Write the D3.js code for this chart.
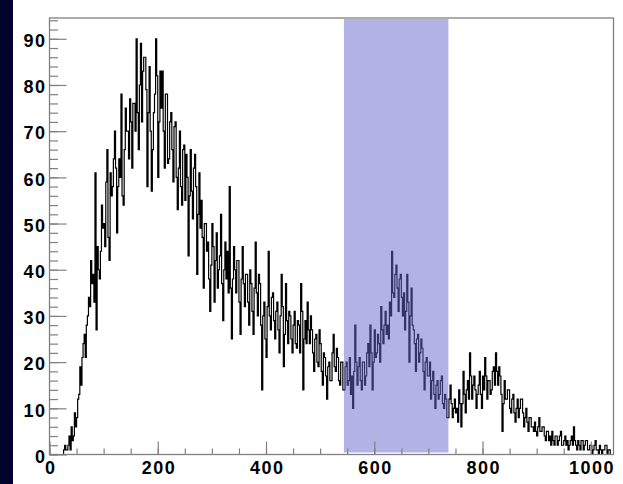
<!DOCTYPE html>
<html>
<head>
<meta charset="utf-8">
<script src="https://cdn.jsdelivr.net/npm/d3@7"></script>
<style>
  html, body { margin: 0; padding: 0; background: #ffffff; }
  svg { display: block; }
  .tick text { font-family: "Liberation Sans", Arial, Helvetica, sans-serif; font-weight: bold; font-size: 18px; letter-spacing: 1.5px; fill: #000; }
</style>
</head>
<body>
<svg id="chart" width="623" height="484"></svg>
<script>
// Channel histogram: counts per 2-unit bin starting at 0 (20 bins per row)
const binWidth = 2;
const counts = [
  0, 0, 0, 0, 0, 0, 0, 0, 0, 0, 0, 0, 0, 1, 2, 1, 1, 2, 4, 1,
  6, 3, 4, 9, 6, 8, 12, 13, 19, 15, 21, 24, 26, 21, 28, 30, 34, 32, 42, 37,
  39, 33, 61, 27, 45, 40, 38, 44, 54, 49, 50, 45, 59, 66, 47, 42, 61, 56, 58, 64,
  70, 62, 48, 58, 64, 60, 78, 56, 54, 66, 75, 70, 70, 64, 77, 72, 62, 76, 76, 70,
  90, 74, 66, 80, 89, 72, 83, 86, 86, 79, 58, 74, 84, 70, 57, 66, 74, 78, 90, 82,
  60, 72, 83, 75, 83, 70, 62, 78, 78, 63, 64, 72, 74, 66, 59, 71, 72, 60, 53, 62,
  70, 58, 54, 66, 67, 55, 65, 60, 43, 56, 66, 57, 51, 62, 65, 58, 39, 52, 61, 49,
  55, 47, 36, 50, 50, 44, 46, 38, 31, 41, 50, 45, 33, 42, 48, 36, 40, 43, 52, 37,
  29, 40, 46, 38, 44, 35, 58, 36, 25, 38, 45, 40, 35, 42, 42, 33, 26, 38, 45, 37,
  32, 39, 39, 33, 28, 40, 37, 31, 26, 36, 46, 35, 30, 39, 37, 28, 14, 30, 33, 25,
  21, 32, 44, 30, 27, 34, 35, 29, 25, 31, 33, 27, 22, 30, 39, 32, 19, 26, 37, 29,
  24, 31, 30, 25, 22, 28, 31, 24, 23, 29, 28, 22, 37, 31, 14, 25, 29, 24, 33, 27,
  24, 30, 27, 22, 18, 25, 26, 20, 19, 27, 24, 18, 15, 22, 21, 17, 12, 19, 20, 16,
  16, 22, 26, 19, 18, 23, 21, 16, 15, 20, 20, 14, 14, 19, 20, 15, 16, 21, 13, 17,
  10, 18, 28, 20, 15, 19, 21, 16, 14, 20, 20, 15, 17, 22, 24, 19, 28, 22, 14, 20,
  27, 21, 22, 26, 24, 20, 32, 27, 24, 28, 31, 26, 28, 25, 33, 30, 44, 35, 34, 39,
  41, 36, 31, 38, 39, 34, 30, 35, 27, 31, 39, 33, 20, 30, 36, 28, 27, 24, 18, 25,
  26, 20, 22, 25, 23, 18, 14, 20, 21, 17, 17, 20, 12, 16, 18, 13, 10, 15, 16, 12,
  13, 16, 17, 11, 10, 13, 12, 8, 8, 12, 15, 11, 8, 10, 12, 9, 10, 7, 14, 11,
  6, 11, 18, 13, 9, 14, 16, 12, 22, 17, 12, 15, 17, 14, 10, 13, 15, 18, 13, 10,
  17, 14, 21, 17, 12, 16, 16, 13, 14, 18, 19, 15, 22, 18, 15, 19, 17, 13, 5, 11,
  16, 12, 12, 14, 14, 10, 9, 12, 13, 9, 7, 10, 12, 8, 10, 12, 12, 9, 6, 8,
  10, 7, 5, 8, 8, 6, 6, 5, 7, 5, 4, 6, 8, 5, 5, 6, 6, 4, 3, 5,
  5, 3, 4, 2, 5, 3, 2, 4, 4, 2, 3, 4, 5, 2, 2, 3, 4, 2, 3, 1,
  2, 3, 4, 2, 6, 3, 2, 1, 3, 2, 1, 3, 3, 1, 2, 3, 3, 1, 1, 2,
  2, 0, 1, 2, 3, 1, 1, 0, 2, 1, 0, 1, 1, 2, 2, 0, 1, 1, 0, 0
];
const binStarts = counts.map((_, i) => i * binWidth);

// Axis ranges and tick labels
const xDomain = [0, 1042];
const yDomain = [0, 94.5];
const xTickLabels = [0, 200, 400, 600, 800, 1000];
const xMinorTicks = d3.range(0, 1001, 50);
const yTickLabels = [0, 10, 20, 30, 40, 50, 60, 70, 80, 90];
const yMinorTicks = d3.range(0, 95, 2);

// Highlighted window
const windowRange = [544, 737];

const svg = d3.select("#chart");
const W = 623, H = 484;
const frame = { left: 49.5, right: 613.5, top: 18, bottom: 454.5 };

// Left navy strip
svg.append("rect").attr("x", 0).attr("y", 0).attr("width", 13).attr("height", H).attr("fill", "#03032e");

const x = d3.scaleLinear().domain(xDomain).range([frame.left, frame.right]);
const y = d3.scaleLinear().domain(yDomain).range([frame.bottom, frame.top]);

svg.append("clipPath").attr("id", "plotClip")
  .append("rect")
  .attr("x", frame.left).attr("y", frame.top)
  .attr("width", frame.right - frame.left).attr("height", frame.bottom - frame.top);

// Histogram outline (step line)
const pts = binStarts.map((b, i) => [b, counts[i]]);
pts.push([binStarts[binStarts.length - 1] + binWidth, counts[counts.length - 1]]);
const line = d3.line()
  .x(d => x(d[0]))
  .y(d => y(d[1]))
  .curve(d3.curveStepAfter);

svg.append("path")
  .attr("clip-path", "url(#plotClip)")
  .attr("d", line(pts))
  .attr("fill", "none")
  .attr("stroke", "#000")
  .attr("stroke-width", 1.2);

// Translucent band over the selected window
svg.append("rect")
  .attr("x", x(windowRange[0]))
  .attr("y", frame.top + 1)
  .attr("width", x(windowRange[1]) - x(windowRange[0]))
  .attr("height", frame.bottom - frame.top - 3)
  .attr("fill", "#6666cc")
  .attr("fill-opacity", 0.5);

const axisGrey = "#808080";

// Y axis: minor ticks then major ticks with labels
const yMinor = svg.append("g").attr("transform", `translate(${frame.left},0)`)
  .call(d3.axisLeft(y).tickValues(yMinorTicks).tickSize(-8.5).tickFormat(""));
const yMajor = svg.append("g").attr("transform", `translate(${frame.left},0)`)
  .call(d3.axisLeft(y).tickValues(yTickLabels).tickSize(-17).tickPadding(3).tickFormat(d3.format("d")));

// X axis: minor ticks then major ticks with labels
const xMinor = svg.append("g").attr("transform", `translate(0,${frame.bottom})`)
  .call(d3.axisBottom(x).tickValues(xMinorTicks).tickSize(-6).tickFormat(""));
const xMajor = svg.append("g").attr("transform", `translate(0,${frame.bottom})`)
  .call(d3.axisBottom(x).tickValues(xTickLabels).tickSize(-13).tickPadding(7).tickFormat(d3.format("d")));

[yMinor, yMajor, xMinor, xMajor].forEach(g => {
  g.select(".domain").remove();
  g.selectAll(".tick line").attr("stroke", axisGrey).attr("stroke-width", 1.2);
});
yMajor.selectAll(".tick text").attr("dy", "0.43em");
xMajor.selectAll(".tick text").attr("dx", "0.75px");

// Frame
svg.append("rect")
  .attr("x", frame.left).attr("y", frame.top)
  .attr("width", frame.right - frame.left).attr("height", frame.bottom - frame.top)
  .attr("fill", "none")
  .attr("stroke", axisGrey)
  .attr("stroke-width", 1.3);
</script>
</body>
</html>
